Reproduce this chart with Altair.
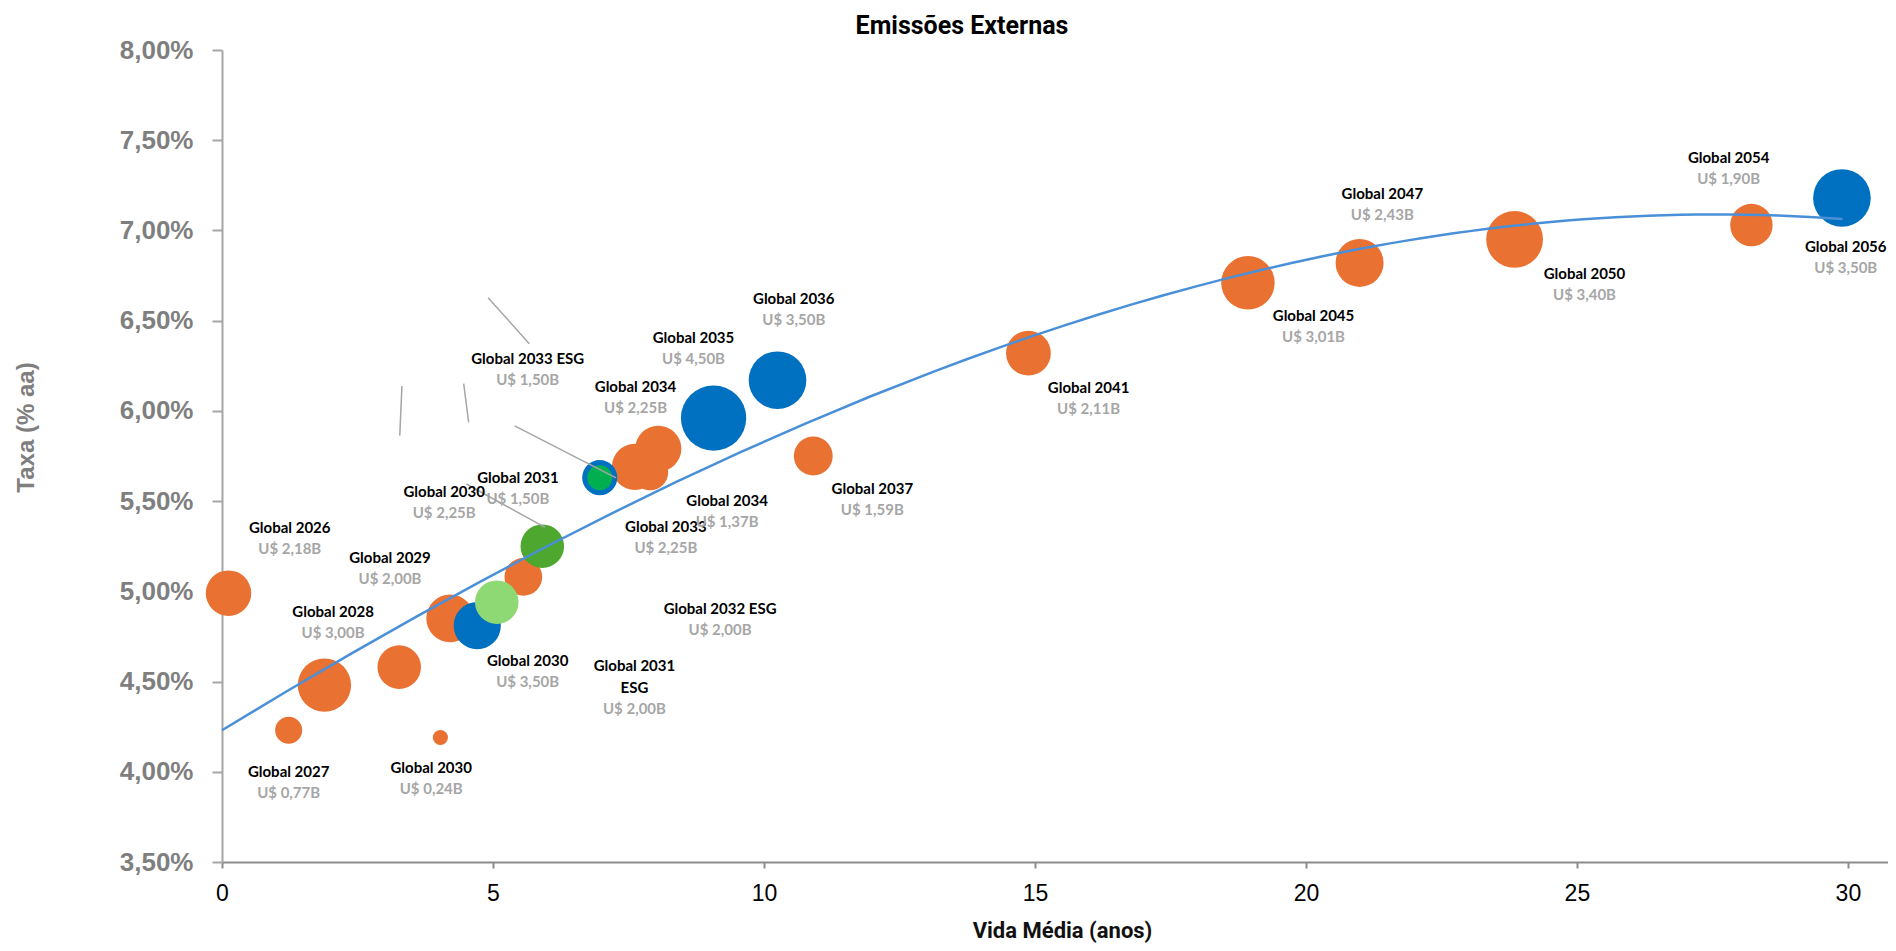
import altair as alt
import pandas as pd

# ---- bubbles ----
vida = [0.12, 1.23, 1.89, 3.27, 4.03, 4.21, 5.56, 7.62, 7.90, 8.05, 10.91, 14.88, 18.93, 20.99, 23.85, 28.22,
        4.71, 6.97, 9.07, 10.25, 29.89,
        5.07, 5.91, 6.97]
taxa = [4.99, 4.23, 4.48, 4.58, 4.19, 4.85, 5.08, 5.69, 5.66, 5.79, 5.75, 6.32, 6.71, 6.82, 6.95, 7.03,
        4.81, 5.63, 5.96, 6.17, 7.18,
        4.94, 5.25, 5.63]
tamanho = [2.18, 0.77, 3.00, 2.00, 0.24, 2.40, 1.50, 2.25, 1.37, 2.25, 1.59, 2.11, 3.01, 2.43, 3.40, 1.90,
           2.35, 1.30, 4.50, 3.50, 3.50,
           2.00, 2.00, 0.65]
tipo = ["Global"] * 16 + ["Global (azul)"] * 5 + ["ESG claro", "ESG", "ESG centro"]

# ---- data labels ----
rotulo_nome = ["Global 2026", "Global 2027", "Global 2028", "Global 2029", "Global 2030", "Global 2030",
               "Global 2030", "Global 2031", "Global 2031", "ESG", "Global 2032 ESG", "Global 2033",
               "Global 2033 ESG", "Global 2034", "Global 2034", "Global 2035", "Global 2036", "Global 2037",
               "Global 2041", "Global 2045", "Global 2047", "Global 2050", "Global 2054", "Global 2056"]
rotulo_valor = ["U$ 2,18B", "U$ 0,77B", "U$ 3,00B", "U$ 2,00B", "U$ 0,24B", "U$ 3,50B",
                "U$ 2,25B", "U$ 1,50B", "", "U$ 2,00B", "U$ 2,00B", "U$ 2,25B",
                "U$ 1,50B", "U$ 2,25B", "U$ 1,37B", "U$ 4,50B", "U$ 3,50B", "U$ 1,59B",
                "U$ 2,11B", "U$ 3,01B", "U$ 2,43B", "U$ 3,40B", "U$ 1,90B", "U$ 3,50B"]
rotulo_x = [1.25, 1.23, 2.05, 3.10, 3.86, 5.64, 4.10, 5.46, 7.61, 7.61, 9.19, 8.19,
            5.64, 7.63, 9.32, 8.70, 10.55, 12.00, 15.99, 20.14, 21.41, 25.14, 27.80, 29.96]
rotulo_y = [5.291, 3.938, 4.822, 5.123, 3.958, 4.554, 5.492, 5.565, 4.524, 4.403, 4.842, 5.297,
            6.228, 6.074, 5.438, 6.342, 6.557, 5.505, 6.068, 6.463, 7.139, 6.697, 7.340, 6.845]

# ---- leader lines of moved labels ----
guia_x1 = [4.91, 3.32, 4.46, 5.40, 4.51]
guia_y1 = [6.627, 6.138, 6.151, 5.917, 5.595]
guia_x2 = [5.67, 3.28, 4.55, 7.27, 5.96]
guia_y2 = [6.372, 5.863, 5.937, 5.629, 5.354]

ordem_tipo = {"Global": 0, "Global (azul)": 1, "ESG claro": 2, "ESG": 3, "ESG centro": 4}
bolhas = pd.DataFrame({"vida": vida, "taxa": taxa, "tamanho": tamanho, "tipo": tipo})
bolhas["ordem"] = [ordem_tipo[t] * 100 + i for i, t in enumerate(tipo)]
rotulos = pd.DataFrame({"nome": rotulo_nome, "valor": rotulo_valor, "x": rotulo_x, "y": rotulo_y})
guias = pd.DataFrame({"x1": guia_x1, "y1": guia_y1, "x2": guia_x2, "y2": guia_y2})

xscale = alt.Scale(domain=[0, 30.74], nice=False, zero=False)
yscale = alt.Scale(domain=[3.5, 8.0], nice=False, zero=False)

xaxis = alt.Axis(values=[0, 5, 10, 15, 20, 25, 30], format="d", grid=False, labelFlush=False,
                 labelFont="Liberation Sans", labelFontSize=23, labelColor="#000000",
                 labelPadding=14, labelBaseline="top",
                 tickSize=6, tickColor="#8C8C8C", tickWidth=2,
                 domainColor="#8C8C8C", domainWidth=2,
                 title="Vida Média (anos)", titleFont="Roboto", titleFontSize=22,
                 titleFontWeight="bold", titleColor="#111111",
                 titleX=840, titleY=75, titleBaseline="alphabetic", titleAlign="center")
yaxis = alt.Axis(values=[3.5, 4.0, 4.5, 5.0, 5.5, 6.0, 6.5, 7.0, 7.5, 8.0], grid=False,
                 labelExpr="replace(format(datum.value, '.2f'), '.', ',') + '%'",
                 labelFont="Liberation Sans", labelFontSize=26, labelFontWeight="bold",
                 labelColor="#7F7F7F", labelPadding=19,
                 tickSize=10, tickColor="#A6A6A6", tickWidth=2,
                 domainColor="#A6A6A6", domainWidth=2,
                 title="Taxa (% aa)", titleFont="Liberation Sans", titleFontSize=24,
                 titleFontWeight="bold", titleColor="#7F7F7F",
                 titleX=-196, titleY=377, titleAngle=-90, titleBaseline="middle", titleAlign="center")

base = alt.Chart(bolhas)

pontos = base.mark_circle(opacity=1).encode(
    x=alt.X("vida:Q", scale=xscale, axis=xaxis),
    y=alt.Y("taxa:Q", scale=yscale, axis=yaxis),
    size=alt.Size("tamanho:Q", scale=alt.Scale(domain=[0, 4.5], range=[0, 4269]), legend=None),
    color=alt.Color("tipo:N", legend=None,
                    scale=alt.Scale(domain=["Global", "Global (azul)", "ESG claro", "ESG", "ESG centro"],
                                    range=["#E97132", "#0070C0", "#8ED973", "#4EA72E", "#00B050"])),
    order=alt.Order("ordem:Q"),
)

tendencia = base.transform_regression(
    "vida", "taxa", method="poly", order=3, extent=[0, 29.9]
).mark_line(color="#4A90D9", strokeWidth=2.5).encode(
    x=alt.X("vida:Q", scale=xscale, axis=xaxis),
    y=alt.Y("taxa:Q", scale=yscale, axis=yaxis),
)

linhas = alt.Chart(guias).mark_rule(color="#A6A6A6", strokeWidth=1.5).encode(
    x=alt.X("x1:Q", scale=xscale, axis=xaxis), y=alt.Y("y1:Q", scale=yscale, axis=yaxis),
    x2="x2:Q", y2="y2:Q",
)

nomes = alt.Chart(rotulos).mark_text(
    font="Lato", fontSize=15, fontWeight="bold", color="#000000",
    baseline="bottom", align="center", dy=-3,
).encode(x=alt.X("x:Q", scale=xscale, axis=xaxis), y=alt.Y("y:Q", scale=yscale, axis=yaxis), text="nome:N")

valores = alt.Chart(rotulos).mark_text(
    font="Lato", fontSize=15, fontWeight="bold", color="#A6A6A6",
    baseline="top", align="center", dy=3,
).encode(x=alt.X("x:Q", scale=xscale, axis=xaxis), y=alt.Y("y:Q", scale=yscale, axis=yaxis), text="valor:N")

chart = alt.layer(pontos, linhas, tendencia, nomes, valores).properties(
    width=1666, height=812,
    background="white",
    view=alt.ViewBackground(strokeOpacity=0, strokeWidth=0),
    autosize=alt.AutoSizeParams(type="none"),
    padding={"left": 214, "top": 42, "right": 0, "bottom": 86},
    title=alt.TitleParams("Emissões Externas", font="Roboto", fontSize=25, fontWeight="bold",
                          color="#000000", anchor="middle", dx=-93, offset=0, dy=2),
).configure_view(strokeOpacity=0, strokeWidth=0)

chart.save("out.html", embed_options={"renderer": "svg", "actions": False})
